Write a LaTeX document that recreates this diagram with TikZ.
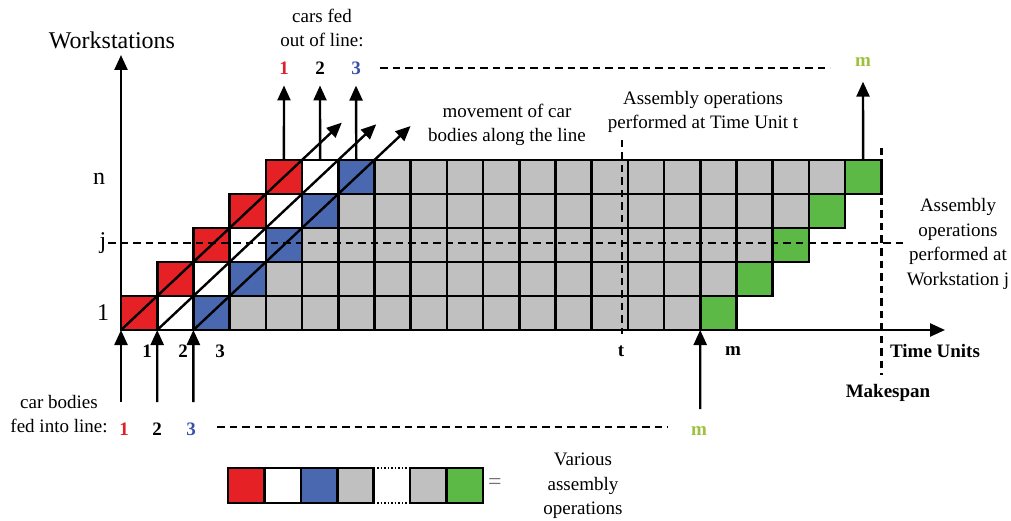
\documentclass[tikz,border=0pt]{standalone}
\usepackage{fontspec}
\setmainfont{Liberation Serif}
\usetikzlibrary{arrows.meta,calc}
\definecolor{carred}{HTML}{E52125}
\definecolor{carblue}{HTML}{4A68B0}
\definecolor{opgray}{HTML}{C0C0C0}
\definecolor{opgreen}{HTML}{5CB946}
\definecolor{mgreen}{HTML}{9DC13A}
\definecolor{numred}{HTML}{E0202A}
\definecolor{numblue}{HTML}{3A4FA8}
\tikzset{
  cell/.style={draw,line width=2.6pt,minimum width=36.2pt,minimum height=34pt,inner sep=0pt,outer sep=0pt},
  lcell/.style={cell,minimum width=36.4pt,minimum height=35pt},
  arr/.style={line width=2.4pt,-{Triangle[length=15pt,width=13pt]}},
  dashline/.style={line width=2.8pt,dash pattern=on 7.5pt off 5pt},
  dotline/.style={line width=2.4pt,dash pattern=on 1.5pt off 2pt},
  txt/.style={font=\fontsize{19}{24.5}\selectfont,align=center,inner sep=0pt},
  num/.style={font=\fontsize{19}{20}\selectfont\bfseries,inner sep=0pt},
  axl/.style={font=\fontsize{24}{26}\selectfont,inner sep=0pt}
}
\begin{document}
\begin{tikzpicture}[x=1pt,y=-1pt]
\useasboundingbox[fill=white] (0,0) rectangle (1011,521);
\foreach \r in {0,...,4}{
  \foreach \k/\col in {0/carred,1/white,2/carblue,16/opgreen}
    \node[cell,fill=\col] (c\r-\k) at ({139.1+36.2*(\r+\k)},{313-34*\r}) {};
  \foreach \k in {3,...,15}
    \node[cell,fill=opgray] (c\r-\k) at ({139.1+36.2*(\r+\k)},{313-34*\r}) {};
}
\draw[dashline] (108,243) -- (903,243);
\draw[dashline] (622,140) -- (622,334);
\draw[dashline] (881.7,148) -- (881.7,375);

\draw[arr] (c0-0.south west) -- (121,55);
\draw[arr] (c0-0.south west) -- (945,330);
\node[axl] (ws) at (112,40) {Workstations};
\node[axl] (ln) at (99,179) {n};
\node[axl] (lj) at (103,243) {j};
\node[axl] (l1) at (103,313) {1};

\draw[arr] (c0-0.south west) -- ($(c0-0.south west)!1.22!(c4-0.north east)$);
\draw[arr] (c0-1.south west) -- ($(c0-1.south west)!1.21!(c4-1.north east)$);
\draw[arr] (c0-2.south west) -- ($(c0-2.south west)!1.2!(c4-2.north east)$);

\node[txt] (outtxt) at (322,28) {cars fed\\out of line:};
\node[num,text=numred] (out1) at (284,68) {1};
\node[num] (out2) at (320,68) {2};
\node[num,text=numblue] (out3) at (356,68) {3};
\node[num,text=mgreen] (mtop) at (863,62) {m};
\draw[dashline] (380,68) -- (830,68);
\draw[arr] (c4-0.north) -- ([yshift=-11pt]out1.south);
\draw[arr] (c4-1.north) -- ([yshift=-11pt]out2.south);
\draw[arr] (c4-2.north) -- ([yshift=-11pt]out3.south);
\draw[arr] (c4-16.north) -- ([yshift=-15pt]mtop.south);

\node[txt] (movtxt) at (507,125) {movement of car\\bodies along the line};
\node[txt] (ttxt) at (703,112) {Assembly operations\\performed at Time Unit t};
\node[txt] (jtxt) at (958,244) {Assembly\\operations\\performed at\\Workstation j};

\node[num] (x1) at (147,351) {1};
\node[num] (x2) at (183,351) {2};
\node[num] (x3) at (220,351) {3};
\node[num] (xt) at (621,351) {t};
\node[num] (xm) at (733,351) {m};
\node[num] (tu) at (935,351) {Time Units};
\node[num] (ms) at (888,393) {Makespan};

\node[txt] (intxt) at (59,414) {car bodies\\fed into line:};
\node[num,text=numred] (in1) at (124,429) {1};
\node[num] (in2) at (157,429) {2};
\node[num,text=numblue] (in3) at (191,429) {3};
\node[num,text=mgreen] (mbot) at (699,431) {m};
\draw[dashline] (217,427) -- (668,427);
\coordinate (f1) at (121,402);
\coordinate (f2) at (157.2,402);
\coordinate (f3) at (193.4,402);
\coordinate (fm) at (700.2,409);
\draw[arr] (f1) -- (c0-0.south west);
\draw[arr] (f2) -- (c0-1.south west);
\draw[arr] (f3) -- (c0-2.south west);
\draw[arr] (fm) -- (c0-16.south west);

\node[lcell,draw=none,fill=white] (lg5) at (391.8,485.5) {};
\foreach \i/\col in {1/carred,2/white,3/carblue,4/opgray,6/opgray,7/opgreen}
  \node[lcell,fill=\col] (lg\i) at ({228+36.4*(\i-0.5)},485.5) {};
\draw[dotline] (lg5.north west) -- (lg5.north east);
\draw[dotline] (lg5.south west) -- (lg5.south east);
\node[txt,font=\fontsize{24}{26}\selectfont,text=black!55] (eq) at (495,484) {=};
\node[txt] (legtxt) at (583,486) {Various\\assembly\\operations};
\end{tikzpicture}
\end{document}
